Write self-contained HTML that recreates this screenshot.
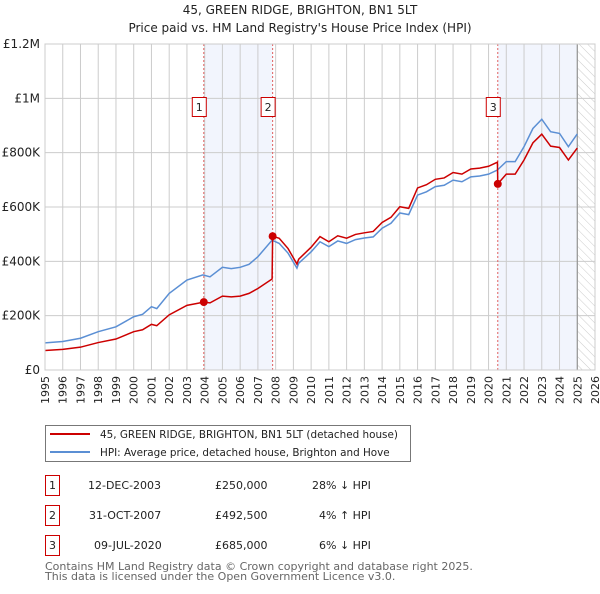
<!DOCTYPE html>
<html><head><meta charset="utf-8"><style>
body{margin:0;background:#fff;font-family:"DejaVu Sans","Liberation Sans",sans-serif;}
svg text{font-family:"DejaVu Sans","Liberation Sans",sans-serif;}
</style></head><body>
<svg id="c" width="600" height="590" viewBox="0 0 600 590" xmlns="http://www.w3.org/2000/svg">
<defs><pattern id="hatch" width="6" height="6" patternUnits="userSpaceOnUse" patternTransform="rotate(-45)"><line x1="0" y1="0" x2="0" y2="6" stroke="#ccc" stroke-width="1"/></pattern></defs>
<text x="300" y="14" text-anchor="middle" font-size="12" fill="#222">45, GREEN RIDGE, BRIGHTON, BN1 5LT</text>
<text x="300" y="32" text-anchor="middle" font-size="12" fill="#222">Price paid vs. HM Land Registry's House Price Index (HPI)</text>
<g id="plot"></g>
<g>
<rect x="45.5" y="425.5" width="365" height="36" fill="#fff" stroke="#777"/>
<line x1="50" y1="434" x2="90" y2="434" stroke="#cc0000" stroke-width="2"/>
<text x="100" y="438" font-size="10.4" fill="#222">45, GREEN RIDGE, BRIGHTON, BN1 5LT (detached house)</text>
<line x1="50" y1="452" x2="90" y2="452" stroke="#5b8fd4" stroke-width="2"/>
<text x="100" y="456" font-size="10.4" fill="#222">HPI: Average price, detached house, Brighton and Hove</text>
</g>
<g font-size="11" fill="#222">
<rect x="45.5" y="475.5" width="14" height="20" fill="#fff" stroke="#c00"/><text x="52.5" y="489" text-anchor="middle">1</text>
<text x="88" y="489">12-DEC-2003</text><text x="215" y="489">£250,000</text><text x="312" y="489">28% ↓ HPI</text>
<rect x="45.5" y="505.5" width="14" height="20" fill="#fff" stroke="#c00"/><text x="52.5" y="519" text-anchor="middle">2</text>
<text x="89" y="519">31-OCT-2007</text><text x="215" y="519">£492,500</text><text x="319" y="519">4% ↑ HPI</text>
<rect x="45.5" y="535.5" width="14" height="20" fill="#fff" stroke="#c00"/><text x="52.5" y="549" text-anchor="middle">3</text>
<text x="94" y="549">09-JUL-2020</text><text x="215" y="549">£685,000</text><text x="319" y="549">6% ↓ HPI</text>
</g>
<text x="45" y="570" font-size="11" fill="#666">Contains HM Land Registry data © Crown copyright and database right 2025.</text>
<text x="45" y="580" font-size="11" fill="#666">This data is licensed under the Open Government Licence v3.0.</text>
</svg>
<script>
const hpiYears=[1995,1996,1997,1998,1999,2000,2000.5,2001,2001.3,2002,2003,2003.9,2004.3,2005,2005.5,2006,2006.5,2007,2007.8,2008.2,2008.7,2009.2,2009.3,2010,2010.5,2011,2011.5,2012,2012.5,2013,2013.5,2014,2014.5,2015,2015.5,2016,2016.5,2017,2017.5,2018,2018.5,2019,2019.5,2020,2020.5,2021,2021.5,2022,2022.5,2023,2023.5,2024,2024.5,2025];
const hpiValues=[100,105,117,141,159,196,205,233,226,282,331,350,343,378,373,378,389,417,478,466,430,375,393,435,472,454,475,466,480,486,490,522,540,578,572,644,656,675,680,699,693,711,714,721,736,767,767,822,889,923,877,871,822,869];
const ppYears=[1995,1996,1997,1998,1999,2000,2000.5,2001,2001.3,2002,2003,2003.95,2004.3,2005,2005.5,2006,2006.5,2007,2007.8,2007.83,2008.2,2008.7,2009.2,2009.3,2010,2010.5,2011,2011.5,2012,2012.5,2013,2013.5,2014,2014.5,2015,2015.5,2016,2016.5,2017,2017.5,2018,2018.5,2019,2019.5,2020,2020.5,2020.52,2021,2021.5,2022,2022.5,2023,2023.5,2024,2024.5,2025];
const ppValues=[72,76,84,101,114,141,148,168,163,203,238,250,247,272,269,272,282,300,335,492.5,485,447,390,408,452,491,472,494,485,499,505,510,543,562,601,595,670,682,702,707,727,721,740,743,750,765,685,721,721,773,836,868,824,819,773,817];
const saleYears=[2003.95,2007.83,2020.52];
const saleValues=[250,492.5,685];
const saleLabels=["1","2","3"];
const yTicks=[0,200,400,600,800,1000,1200];
const yTickLabels=["£0","£200K","£400K","£600K","£800K","£1M","£1.2M"];
const xTicks=[1995,1996,1997,1998,1999,2000,2001,2002,2003,2004,2005,2006,2007,2008,2009,2010,2011,2012,2013,2014,2015,2016,2017,2018,2019,2020,2021,2022,2023,2024,2025,2026];

const L=45,R=595,T=44,B=370;
const xs=y=>L+(y-1995)*(R-L)/31;
const ys=v=>B-v*(B-T)/1200;
const NS="http://www.w3.org/2000/svg";
const g=document.getElementById('plot');
function mk(tag,at,parent){const e=document.createElementNS(NS,tag);for(const k in at)e.setAttribute(k,at[k]);(parent||g).appendChild(e);return e;}

let e;
e=mk('rect',{x:xs(saleYears[0]),y:T,width:xs(saleYears[1])-xs(saleYears[0]),height:B-T,fill:'#f2f5fd'});


e=mk('rect',{x:xs(saleYears[2]),y:T,width:xs(2025)-xs(saleYears[2]),height:B-T,fill:'#f2f5fd'});


e=mk('rect',{x:xs(2025),y:T,width:R-xs(2025),height:B-T,fill:'url(#hatch)'});



xTicks.forEach(t=>{
  e=mk('line',{x1:xs(t),x2:xs(t),y1:T,y2:B,stroke:'#ccc','stroke-width':1});
  
  
  e=mk('text',{x:0,y:0,transform:`translate(${xs(t)+4},${B+6}) rotate(-90)`,'text-anchor':'end','font-size':11,fill:'#222'});
  e.textContent=t;
  
  
});
yTicks.forEach((t,i)=>{
  e=mk('line',{x1:L,x2:R,y1:ys(t),y2:ys(t),stroke:'#ccc','stroke-width':1});
  
  
  e=mk('text',{x:L-5,y:ys(t)+4,'text-anchor':'end','font-size':12,fill:'#222'});
  e.textContent=yTickLabels[i];
  
  
});
e=mk('line',{x1:xs(2025),x2:xs(2025),y1:T,y2:B,stroke:'#888','stroke-width':1});



saleYears.forEach((s,i)=>{
  e=mk('line',{x1:xs(s),x2:xs(s),y1:T,y2:B,stroke:'#e06060','stroke-width':1,'stroke-dasharray':'2,2'});
  
  
  e=mk('rect',{x:xs(s)-11.5,y:97.5,width:14,height:19,fill:'#fff',stroke:'#c00'});
  
  
  e=mk('text',{x:xs(s)-4.5,y:111,'text-anchor':'middle','font-size':11,fill:'#222'});
  e.textContent=saleLabels[i];
  
  
});

e=mk('polyline',{points:hpiYears.map((y,i)=>xs(y)+','+ys(hpiValues[i])).join(' '),fill:'none',stroke:'#5b8fd4','stroke-width':1.5});


e=mk('polyline',{points:ppYears.map((y,i)=>xs(y)+','+ys(ppValues[i])).join(' '),fill:'none',stroke:'#cc0000','stroke-width':1.5});


saleYears.forEach((s,i)=>{
  e=mk('circle',{cx:xs(s),cy:ys(saleValues[i]),r:4,fill:'#cc0000'});
  
  
});
e=mk('rect',{x:L,y:T,width:R-L,height:B-T,fill:'none',stroke:'#ccc'});


</script>
</body></html>
